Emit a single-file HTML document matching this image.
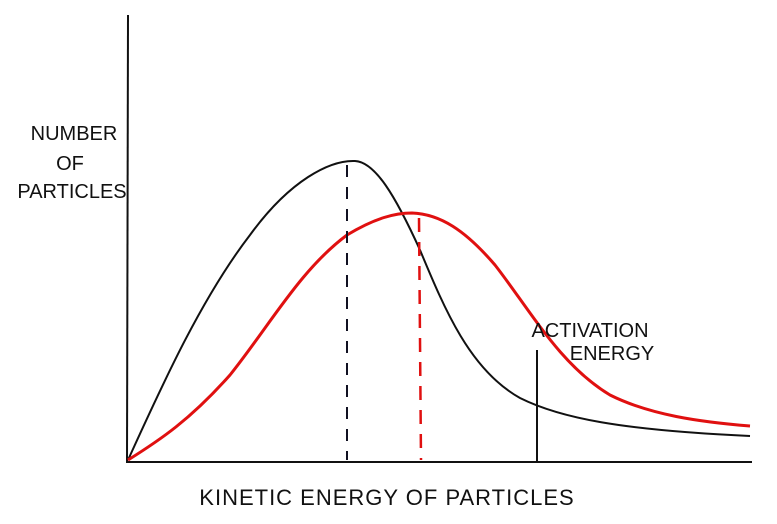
<!DOCTYPE html>
<html><head><style>body{margin:0;background:#fff}svg{display:block}</style></head><body>
<svg width="777" height="524" viewBox="0 0 777 524" xmlns="http://www.w3.org/2000/svg" font-family="Liberation Sans, sans-serif">
<rect width="777" height="524" fill="#fff"/>
<line x1="128" y1="15" x2="127" y2="463" stroke="#111" stroke-width="2"/>
<line x1="127" y1="462" x2="752" y2="462" stroke="#111" stroke-width="2"/>
<path d="M128,460 C160,390 200,300 250,235 C290,180 330,160 355,161 C375,162 395,195 420,250 C445,310 470,370 520,398 C560,418 620,430 750,436" fill="none" stroke="#111" stroke-width="2"/>
<path d="M128,460 C160,440 190,420 230,375 C270,325 300,270 347,235 C375,218 395,213 412,213 C440,214 465,230 495,265 C530,310 560,365 610,395 C650,415 700,422 750,426" fill="none" stroke="#e01010" stroke-width="3"/>
<line x1="347" y1="165" x2="347" y2="460" stroke="#112" stroke-width="2" stroke-dasharray="12,10"/>
<line x1="419" y1="218" x2="421" y2="460" stroke="#e01010" stroke-width="2.5" stroke-dasharray="14,10"/>
<line x1="537" y1="350" x2="537" y2="462" stroke="#111" stroke-width="2"/>
<g fill="#111" font-size="20" text-anchor="middle">
<text x="74" y="140">NUMBER</text>
<text x="70" y="170">OF</text>
<text x="72" y="198">PARTICLES</text>
<text x="590" y="337">ACTIVATION</text>
<text x="612" y="360">ENERGY</text>
<text x="387" y="505" font-size="22" letter-spacing="1">KINETIC ENERGY OF PARTICLES</text>
</g>
</svg>
</body></html>
